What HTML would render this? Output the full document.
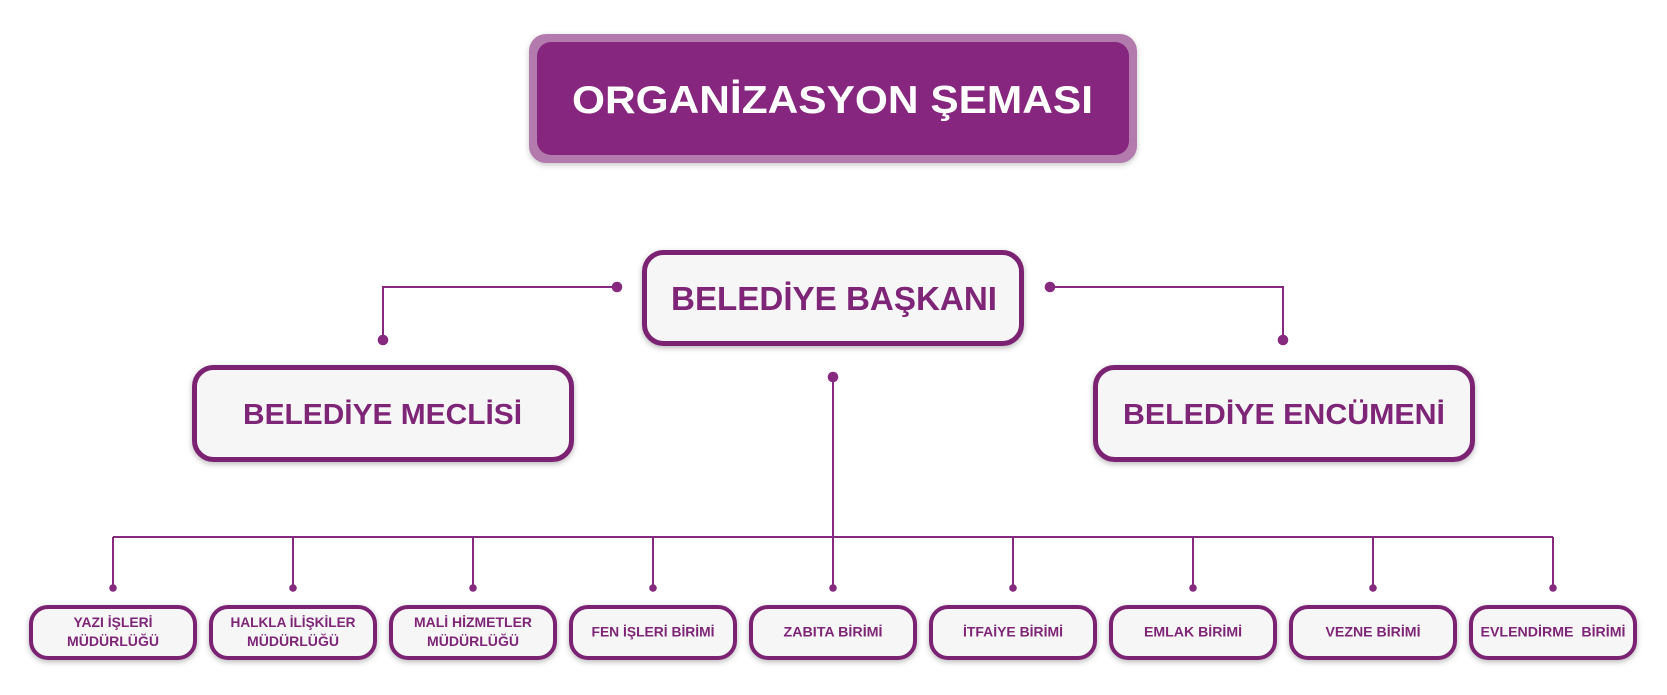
<!DOCTYPE html>
<html>
<head>
<meta charset="utf-8">
<style>
html,body{margin:0;padding:0;background:#ffffff;}
svg{display:block;}
text{font-family:"Liberation Sans","DejaVu Sans",sans-serif;font-weight:bold;}
</style>
</head>
<body>
<svg width="1667" height="695" viewBox="0 0 1667 695" xmlns="http://www.w3.org/2000/svg">
<defs>
<filter id="sh" x="-20%" y="-30%" width="140%" height="170%">
<feDropShadow dx="0" dy="2" stdDeviation="3" flood-color="#000" flood-opacity="0.28"/>
</filter>
<filter id="sh2" x="-10%" y="-20%" width="120%" height="150%">
<feDropShadow dx="0" dy="2" stdDeviation="3" flood-color="#000" flood-opacity="0.22"/>
</filter>
</defs>

<!-- Title -->
<g filter="url(#sh2)">
<rect x="529" y="34" width="608" height="129" rx="17" fill="#b27aad"/>
</g>
<rect x="537" y="42" width="592" height="113" rx="14" fill="#86267e"/>
<text x="572" y="113" font-size="39" fill="#ffffff" textLength="521" lengthAdjust="spacingAndGlyphs">ORGANİZASYON ŞEMASI</text>

<!-- Connectors -->
<g stroke="#862a80" stroke-width="2" fill="none">
<polyline points="617,287 383,287 383,340"/>
<polyline points="1050,287 1283,287 1283,340"/>
<line x1="833" y1="377" x2="833" y2="537"/>
<line x1="113" y1="537" x2="1553" y2="537"/>
<line x1="113" y1="537" x2="113" y2="588"/>
<line x1="293" y1="537" x2="293" y2="588"/>
<line x1="473" y1="537" x2="473" y2="588"/>
<line x1="653" y1="537" x2="653" y2="588"/>
<line x1="833" y1="537" x2="833" y2="588"/>
<line x1="1013" y1="537" x2="1013" y2="588"/>
<line x1="1193" y1="537" x2="1193" y2="588"/>
<line x1="1373" y1="537" x2="1373" y2="588"/>
<line x1="1553" y1="537" x2="1553" y2="588"/>
</g>
<g fill="#862a80">
<circle cx="617" cy="287" r="5.3"/>
<circle cx="383" cy="340" r="5.3"/>
<circle cx="1050" cy="287" r="5.3"/>
<circle cx="1283" cy="340" r="5.3"/>
<circle cx="833" cy="377" r="5.3"/>
<circle cx="113" cy="588" r="3.8"/>
<circle cx="293" cy="588" r="3.8"/>
<circle cx="473" cy="588" r="3.8"/>
<circle cx="653" cy="588" r="3.8"/>
<circle cx="833" cy="588" r="3.8"/>
<circle cx="1013" cy="588" r="3.8"/>
<circle cx="1193" cy="588" r="3.8"/>
<circle cx="1373" cy="588" r="3.8"/>
<circle cx="1553" cy="588" r="3.8"/>
</g>

<!-- Main boxes -->
<g filter="url(#sh)" fill="#f6f6f6" stroke="#7b2273" stroke-width="5">
<rect x="644.5" y="252.5" width="377" height="91" rx="19"/>
<rect x="194.5" y="367.5" width="377" height="92" rx="19"/>
<rect x="1095.5" y="367.5" width="377" height="92" rx="19"/>
</g>
<g fill="#7f2577">
<text x="671" y="310" font-size="33.5" textLength="326" lengthAdjust="spacingAndGlyphs">BELEDİYE BAŞKANI</text>
<text x="243" y="424" font-size="29" textLength="279" lengthAdjust="spacingAndGlyphs">BELEDİYE MECLİSİ</text>
<text x="1123" y="424" font-size="29" textLength="322" lengthAdjust="spacingAndGlyphs">BELEDİYE ENCÜMENİ</text>
</g>

<!-- Bottom boxes -->
<g filter="url(#sh)" fill="#f6f6f6" stroke="#7b2273" stroke-width="4">
<rect x="31" y="607" width="164" height="51" rx="17"/>
<rect x="211" y="607" width="164" height="51" rx="17"/>
<rect x="391" y="607" width="164" height="51" rx="17"/>
<rect x="571" y="607" width="164" height="51" rx="17"/>
<rect x="751" y="607" width="164" height="51" rx="17"/>
<rect x="931" y="607" width="164" height="51" rx="17"/>
<rect x="1111" y="607" width="164" height="51" rx="17"/>
<rect x="1291" y="607" width="164" height="51" rx="17"/>
<rect x="1471" y="607" width="164" height="51" rx="17"/>
</g>
<g fill="#7f2577" font-size="14">
<text x="73.5" y="627" textLength="79" lengthAdjust="spacingAndGlyphs">YAZI İŞLERİ</text>
<text x="67" y="646" textLength="92" lengthAdjust="spacingAndGlyphs">MÜDÜRLÜĞÜ</text>
<text x="230.5" y="627" textLength="125" lengthAdjust="spacingAndGlyphs">HALKLA İLİŞKİLER</text>
<text x="247" y="646" textLength="92" lengthAdjust="spacingAndGlyphs">MÜDÜRLÜĞÜ</text>
<text x="414" y="627" textLength="118" lengthAdjust="spacingAndGlyphs">MALİ HİZMETLER</text>
<text x="427" y="646" textLength="92" lengthAdjust="spacingAndGlyphs">MÜDÜRLÜĞÜ</text>
<text x="591.5" y="636.5" textLength="123" lengthAdjust="spacingAndGlyphs">FEN İŞLERİ BİRİMİ</text>
<text x="783.5" y="636.5" textLength="99" lengthAdjust="spacingAndGlyphs">ZABITA BİRİMİ</text>
<text x="963" y="636.5" textLength="100" lengthAdjust="spacingAndGlyphs">İTFAİYE BİRİMİ</text>
<text x="1144" y="636.5" textLength="98" lengthAdjust="spacingAndGlyphs">EMLAK BİRİMİ</text>
<text x="1325.5" y="636.5" textLength="95" lengthAdjust="spacingAndGlyphs">VEZNE BİRİMİ</text>
<text x="1480.5" y="636.5" textLength="145" lengthAdjust="spacingAndGlyphs" xml:space="preserve">EVLENDİRME  BİRİMİ</text>
</g>
</svg>
</body>
</html>
